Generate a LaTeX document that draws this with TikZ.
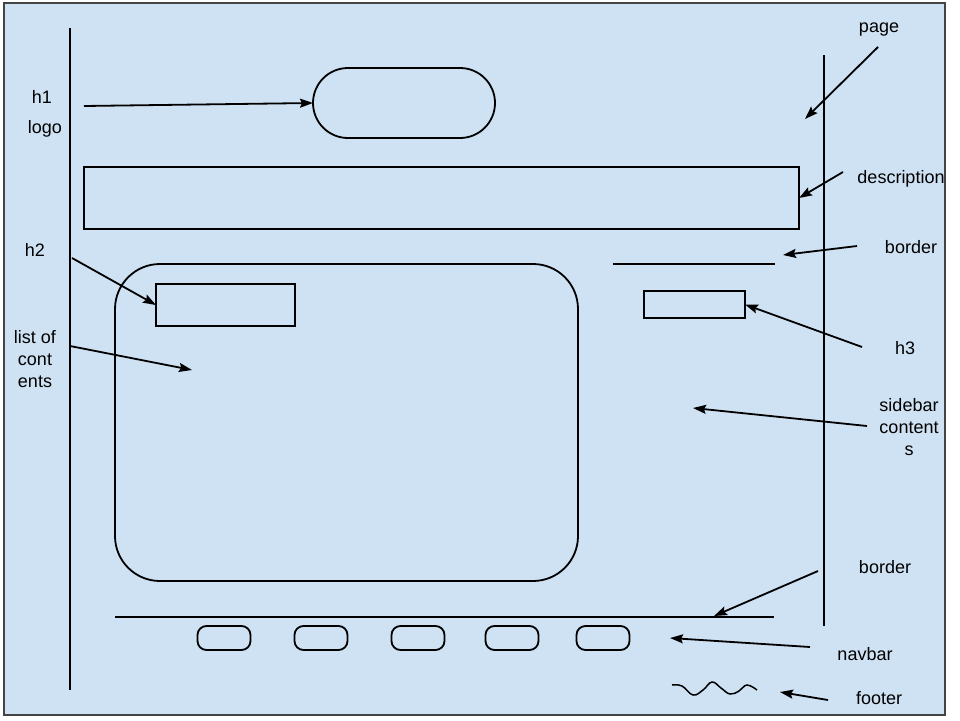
\documentclass[tikz,border=0pt]{standalone}
\usepackage{fontspec}
\setmainfont{Liberation Sans}
\usetikzlibrary{arrows.meta}
\definecolor{pagebg}{HTML}{CFE2F3}
\definecolor{framegray}{HTML}{444444}

\begin{document}
\begin{tikzpicture}[x=1pt,y=-1pt,line width=1.8pt,
        >={Stealth[length=13pt,width=9pt,inset=2pt]},
        box/.style={draw,rectangle,inner sep=0pt,outer sep=0pt},
        pill/.style={box,minimum width=53pt,minimum height=24pt,rounded corners=9pt},
        lbl/.style={inner sep=0pt,align=center,font=\fontsize{18}{22}\selectfont},
        arr/.style={->,line width=1.8pt}]

  \useasboundingbox (0,0) rectangle (960,720);
  \fill[white] (0,0) rectangle (960,720);
  \draw[fill=pagebg,draw=framegray,line width=1.8pt] (4,3) rectangle (945,715);

  % page edges and borders
  \coordinate (leftTop) at (70,28);
  \coordinate (leftBot) at (70,690);
  \coordinate (rightTop) at (824,55);
  \coordinate (rightBot) at (824,626);
  \coordinate (topBorderL) at (613,264);
  \coordinate (topBorderR) at (775,264);
  \coordinate (botBorderL) at (115,617);
  \coordinate (botBorderR) at (774,617);
  \draw (leftTop) -- (leftBot);
  \draw (rightTop) -- (rightBot);
  \draw (topBorderL) -- (topBorderR);
  \draw (botBorderL) -- (botBorderR);

  % boxes
  \node[box,minimum width=182pt,minimum height=70pt,rounded corners=35pt] (logo) at (404,103) {};
  \node[box,minimum width=715pt,minimum height=62pt] (desc) at (441.5,198) {};
  \node[box,minimum width=463pt,minimum height=317pt,rounded corners=45pt] (content) at (346.5,422.5) {};
  \node[box,minimum width=139pt,minimum height=42pt] (h2box) at (225.5,305) {};
  \node[box,minimum width=101pt,minimum height=27pt] (h3box) at (694.5,304.5) {};

  % navbar
  \foreach \x [count=\i] in {224,321,418,512,603}
    \node[pill] (nav\i) at (\x,638) {};

  % footer
  \draw[line width=1.5pt] plot[smooth,tension=0.7] coordinates
    {(672,685) (682,686) (693,695) (703,690) (712,682) (721,688) (730,694) (739,691) (747,685) (757,690)};

  % labels
  \node[lbl] (pageLbl) at (879,30) {page};
  \node[lbl] (h1Lbl) at (42,97) {h1};
  \node[lbl] (logoLbl) at (45,129) {logo};
  \node[lbl] (descLbl) at (901,179) {description};
  \node[lbl] (borderTopLbl) at (911,247) {border};
  \node[lbl] (h2Lbl) at (35,250) {h2};
  \node[lbl] (listLbl) at (35,359) {list of\\cont\\ents};
  \node[lbl] (h3Lbl) at (905,348) {h3};
  \node[lbl] (sideLbl) at (909,427) {sidebar\\content\\s};
  \node[lbl] (borderBotLbl) at (885,567) {border};
  \node[lbl] (navLbl) at (865,654) {navbar};
  \node[lbl] (footLbl) at (879,698) {footer};

  % arrow ends
  \coordinate (h1Tail) at (84,106);
  \coordinate (pageTail) at (878,47);
  \coordinate (pageHead) at (805,119);
  \coordinate (descTail) at (843,172);
  \coordinate (borderTopTail) at (857,246);
  \coordinate (borderTopHead) at (783,255);
  \coordinate (h2Tail) at (72,258);
  \coordinate (listTail) at (70,346);
  \coordinate (listHead) at (192,370);
  \coordinate (h3Tail) at (862,347);
  \coordinate (sideTail) at (867,426);
  \coordinate (sideHead) at (693,408);
  \coordinate (borderBotTail) at (818,571);
  \coordinate (borderBotHead) at (714,616);
  \coordinate (navTail) at (810,647);
  \coordinate (navHead) at (670,638);
  \coordinate (footTail) at (828,700);
  \coordinate (footHead) at (780,692);

  \draw[arr] (h1Tail) -- (logo.west);
  \draw[arr] (pageTail) -- (pageHead);
  \draw[arr] (descTail) -- (desc.east);
  \draw[arr] (borderTopTail) -- (borderTopHead);
  \draw[arr] (h2Tail) -- (h2box.west);
  \draw[arr] (listTail) -- (listHead);
  \draw[arr] (h3Tail) -- (h3box.east);
  \draw[arr] (sideTail) -- (sideHead);
  \draw[arr] (borderBotTail) -- (borderBotHead);
  \draw[arr] (navTail) -- (navHead);
  \draw[arr] (footTail) -- (footHead);

\end{tikzpicture}
\end{document}
